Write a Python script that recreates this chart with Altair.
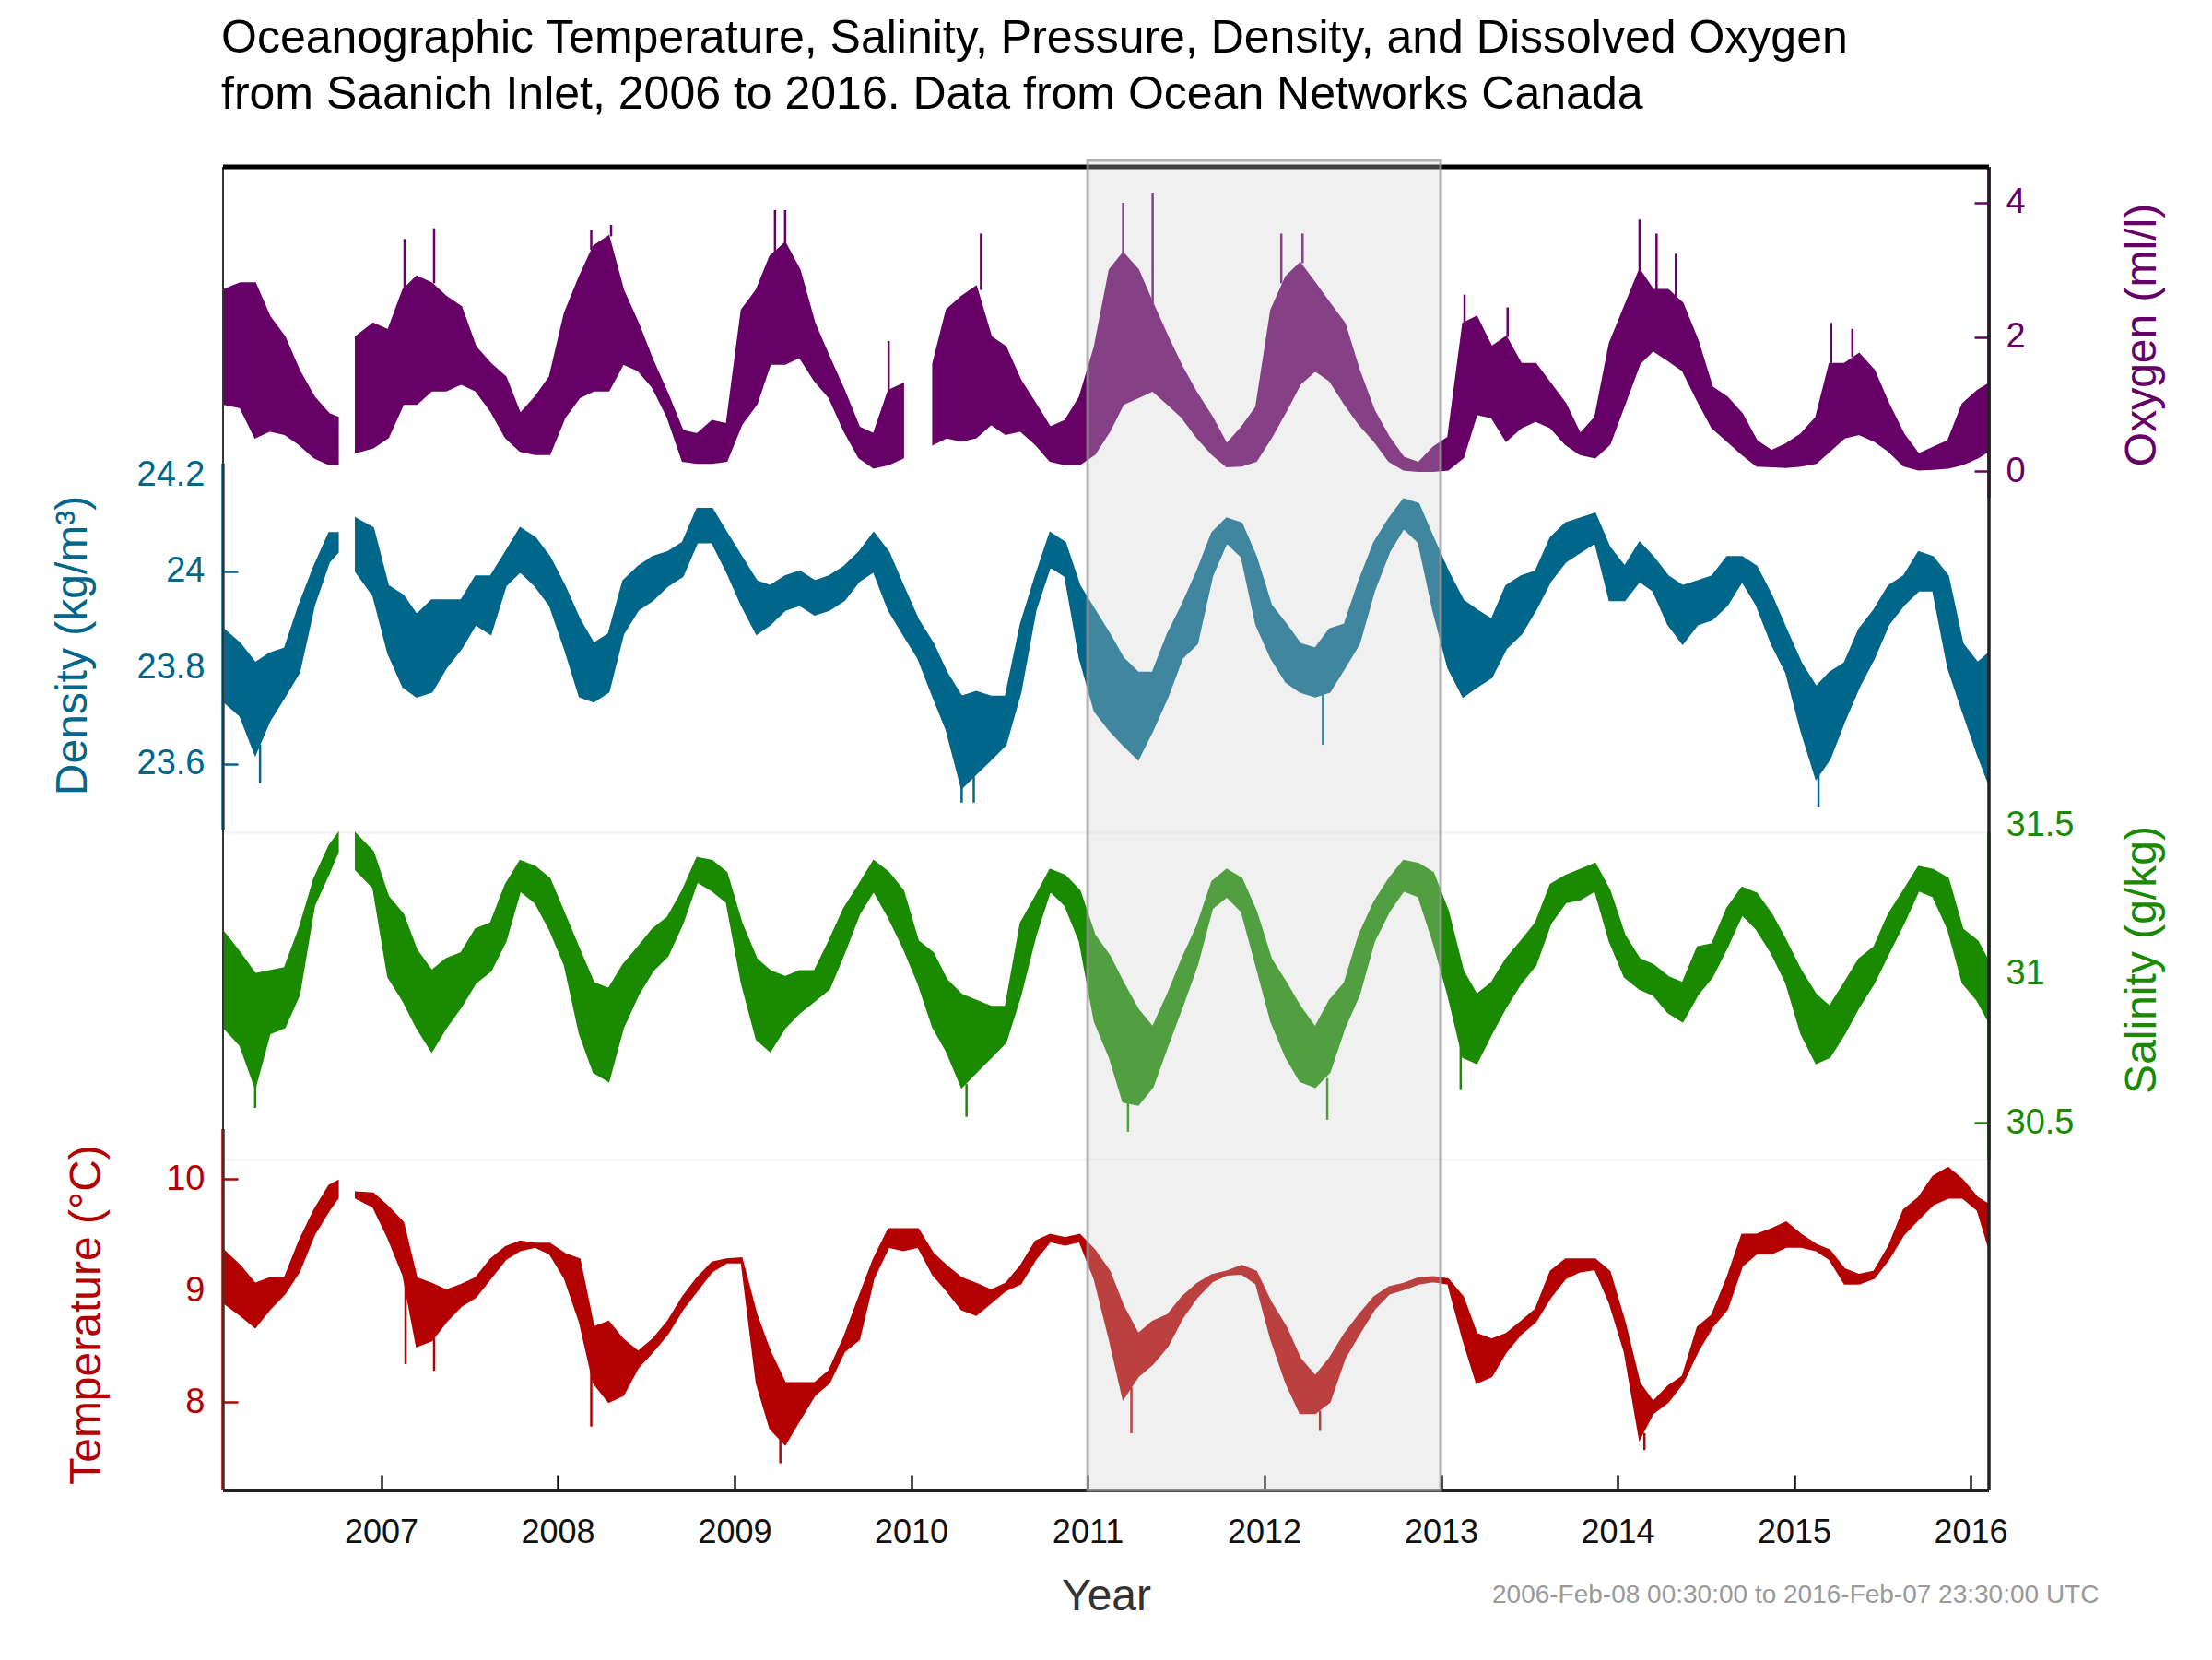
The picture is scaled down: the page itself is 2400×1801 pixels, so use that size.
import altair as alt
import pandas as pd

TITLE_LINES = [
    "Oceanographic Temperature, Salinity, Pressure, Density, and Dissolved Oxygen",
    "from Saanich Inlet, 2006 to 2016. Data from Ocean Networks Canada",
]
FOOTNOTE = "2006-Feb-08 00:30:00 to 2016-Feb-07 23:30:00 UTC"
X_LABEL = "Year"

# sample times (monthly); the 2006-10-20 entry marks the data gap
DATES = (["2006-02-09", "2006-03-15", "2006-04-15", "2006-05-15", "2006-06-15",
          "2006-07-15", "2006-08-15", "2006-09-15", "2006-10-03", "2006-10-20",
          "2006-11-09", "2006-12-15"]
         + [f"{y}-{m:02d}-15" for y in range(2007, 2016) for m in range(1, 13)]
         + ["2016-01-15", "2016-02-07"])

OXY_LO = [1.0, 0.95, 0.5, 0.6, 0.55, 0.4, 0.2, 0.1, 0.1, None, 0.28, 0.35,
          0.5, 1.0, 1.0, 1.2, 1.2, 1.3, 1.2, 0.9, 0.5, 0.3, 0.25, 0.25,
          0.8, 1.1, 1.2, 1.2, 1.6, 1.5, 1.25, 0.8, 0.15, 0.12, 0.12, 0.15,
          0.7, 1.0, 1.6, 1.6, 1.7, 1.35, 1.1, 0.6, 0.2, 0.05, 0.1, 0.2,
          None, 0.4, 0.5, 0.45, 0.5, 0.7, 0.55, 0.6, 0.4, 0.15, 0.1, 0.1,
          0.25, 0.6, 1.0, 1.1, 1.2, 1.0, 0.8, 0.5, 0.25, 0.07, 0.08, 0.15,
          0.5, 0.9, 1.3, 1.5, 1.35, 1.0, 0.7, 0.45, 0.15, 0.02, 0.0, 0.0,
          0.02, 0.2, 0.85, 0.8, 0.45, 0.65, 0.75, 0.65, 0.4, 0.25, 0.2, 0.4,
          1.0, 1.6, 1.8, 1.65, 1.5, 1.05, 0.65, 0.45, 0.25, 0.08, 0.07, 0.06,
          0.08, 0.12, 0.3, 0.5, 0.55, 0.45, 0.3, 0.08, 0.02, 0.03, 0.05, 0.1,
          0.2, 0.3]
OXY_HI = [2.7, 2.8, 2.8, 2.3, 2.0, 1.5, 1.1, 0.85, 0.8, None, 2.0, 2.2,
          2.1, 2.7, 2.9, 2.8, 2.6, 2.45, 1.85, 1.6, 1.4, 0.85, 1.1, 1.4,
          2.35, 2.9, 3.35, 3.5, 2.7, 2.2, 1.65, 1.15, 0.6, 0.55, 0.75, 0.7,
          2.4, 2.7, 3.2, 3.4, 3.0, 2.2, 1.7, 1.2, 0.65, 0.55, 1.2, 1.3,
          None, 1.6, 2.4, 2.6, 2.75, 2.0, 1.85, 1.35, 1.0, 0.65, 0.75, 1.1,
          1.85, 3.0, 3.25, 3.0, 2.5, 2.0, 1.55, 1.15, 0.8, 0.4, 0.65, 0.95,
          2.4, 2.9, 3.1, 2.8, 2.5, 2.2, 1.5, 0.9, 0.5, 0.2, 0.12, 0.35,
          0.5, 2.2, 2.3, 1.85, 2.0, 1.6, 1.6, 1.3, 1.0, 0.55, 0.8, 1.9,
          2.45, 3.0, 2.7, 2.7, 2.5, 1.95, 1.25, 1.1, 0.85, 0.45, 0.3, 0.4,
          0.55, 0.8, 1.6, 1.6, 1.75, 1.5, 1.0, 0.55, 0.25, 0.35, 0.45, 1.0,
          1.2, 1.3]

DEN_LO = [23.73, 23.70, 23.62, 23.69, 23.74, 23.79, 23.93, 24.02, 24.04, None, 24.00, 23.95,
          23.83, 23.76, 23.74, 23.75, 23.80, 23.84, 23.89, 23.87, 23.97, 24.00, 23.97, 23.93,
          23.84, 23.74, 23.73, 23.75, 23.87, 23.92, 23.94, 23.97, 23.99, 24.06, 24.06, 24.00,
          23.93, 23.87, 23.89, 23.92, 23.93, 23.91, 23.92, 23.94, 23.98, 24.00, 23.92, 23.87,
          23.82, 23.74, 23.67, 23.55, 23.58, 23.61, 23.64, 23.75, 23.92, 24.01, 23.99, 23.82,
          23.71, 23.67, 23.64, 23.61, 23.67, 23.74, 23.82, 23.85, 23.99, 24.06, 24.03, 23.89,
          23.82, 23.77, 23.75, 23.74, 23.75, 23.80, 23.85, 23.96, 24.04, 24.09, 24.06, 23.92,
          23.80, 23.74, 23.76, 23.78, 23.84, 23.87, 23.92, 23.98, 24.02, 24.04, 24.06, 23.94,
          23.94, 23.98, 23.96, 23.89, 23.85, 23.89, 23.90, 23.93, 23.98, 23.93, 23.85, 23.79,
          23.67, 23.57, 23.61, 23.69, 23.76, 23.82, 23.89, 23.93, 23.96, 23.96, 23.80, 23.71,
          23.62, 23.56]
DEN_HI = [23.88, 23.85, 23.81, 23.83, 23.84, 23.93, 24.01, 24.08, 24.08, None, 24.11, 24.09,
          23.97, 23.95, 23.91, 23.94, 23.94, 23.94, 23.99, 23.99, 24.04, 24.09, 24.07, 24.03,
          23.97, 23.90, 23.85, 23.87, 23.98, 24.01, 24.03, 24.04, 24.06, 24.13, 24.13, 24.08,
          24.03, 23.98, 23.97, 23.99, 24.00, 23.98, 23.99, 24.01, 24.04, 24.08, 24.04, 23.97,
          23.90, 23.85, 23.79, 23.74, 23.75, 23.74, 23.74, 23.89, 23.99, 24.08, 24.06, 23.97,
          23.92, 23.87, 23.82, 23.79, 23.79, 23.87, 23.93, 24.00, 24.08, 24.11, 24.10, 24.03,
          23.93, 23.89, 23.85, 23.84, 23.88, 23.89, 23.98, 24.06, 24.11, 24.15, 24.14, 24.07,
          24.00, 23.94, 23.92, 23.90, 23.97, 23.99, 24.00, 24.07, 24.10, 24.11, 24.12, 24.05,
          24.01, 24.06, 24.03, 23.99, 23.97, 23.98, 23.99, 24.03, 24.03, 24.01, 23.95, 23.88,
          23.81, 23.76, 23.79, 23.81, 23.88, 23.92, 23.97, 23.99, 24.04, 24.03, 23.99, 23.85,
          23.81, 23.83]

SAL_LO = [30.82, 30.76, 30.62, 30.80, 30.82, 30.93, 31.23, 31.34, 31.41, None, 31.35, 31.29,
          30.99, 30.91, 30.82, 30.74, 30.82, 30.89, 30.97, 31.01, 31.11, 31.28, 31.24, 31.15,
          31.03, 30.80, 30.67, 30.64, 30.82, 30.93, 31.01, 31.06, 31.17, 31.31, 31.28, 31.24,
          30.97, 30.78, 30.74, 30.82, 30.87, 30.91, 30.95, 31.07, 31.20, 31.28, 31.19, 31.09,
          30.97, 30.82, 30.74, 30.62, 30.67, 30.72, 30.77, 30.93, 31.13, 31.28, 31.23, 31.11,
          30.84, 30.72, 30.57, 30.56, 30.62, 30.76, 30.89, 31.03, 31.22, 31.26, 31.21, 31.03,
          30.84, 30.72, 30.64, 30.62, 30.67, 30.82, 30.93, 31.11, 31.21, 31.28, 31.26, 31.11,
          30.93, 30.72, 30.70, 30.80, 30.89, 30.97, 31.03, 31.17, 31.24, 31.25, 31.28, 31.11,
          30.99, 30.95, 30.93, 30.87, 30.84, 30.93, 30.99, 31.09, 31.20, 31.15, 31.07, 30.97,
          30.80, 30.70, 30.72, 30.80, 30.89, 30.97, 31.07, 31.17, 31.28, 31.26, 31.15, 30.97,
          30.91, 30.84]
SAL_HI = [31.14, 31.07, 31.00, 31.01, 31.02, 31.15, 31.32, 31.43, 31.47, None, 31.47, 31.41,
          31.26, 31.20, 31.08, 31.01, 31.05, 31.07, 31.15, 31.17, 31.30, 31.38, 31.36, 31.32,
          31.20, 31.08, 30.97, 30.95, 31.03, 31.09, 31.15, 31.19, 31.28, 31.39, 31.38, 31.34,
          31.17, 31.05, 31.01, 30.99, 31.01, 31.01, 31.11, 31.22, 31.30, 31.38, 31.34, 31.28,
          31.11, 31.07, 30.98, 30.93, 30.91, 30.89, 30.89, 31.17, 31.26, 31.35, 31.33, 31.28,
          31.13, 31.06, 30.97, 30.88, 30.82, 30.93, 31.05, 31.16, 31.31, 31.35, 31.32, 31.21,
          31.05, 30.97, 30.89, 30.82, 30.91, 30.97, 31.13, 31.24, 31.32, 31.38, 31.37, 31.34,
          31.21, 31.01, 30.93, 30.97, 31.05, 31.11, 31.17, 31.30, 31.33, 31.35, 31.37, 31.28,
          31.13, 31.05, 31.03, 30.99, 30.97, 31.09, 31.10, 31.22, 31.29, 31.27, 31.20, 31.11,
          31.01, 30.93, 30.89, 30.97, 31.05, 31.09, 31.20, 31.28, 31.36, 31.35, 31.32, 31.15,
          31.11, 31.04]

TMP_LO = [8.89, 8.78, 8.67, 8.83, 8.97, 9.17, 9.50, 9.72, 9.83, None, 9.83, 9.75,
          9.47, 9.14, 8.50, 8.55, 8.72, 8.86, 8.94, 9.11, 9.28, 9.36, 9.39, 9.33,
          9.11, 8.72, 8.17, 8.00, 8.06, 8.31, 8.45, 8.61, 8.83, 9.00, 9.17, 9.25,
          9.25, 8.17, 7.76, 7.62, 7.84, 8.06, 8.17, 8.45, 8.56, 9.11, 9.39, 9.36,
          9.39, 9.14, 9.00, 8.83, 8.78, 8.89, 9.00, 9.06, 9.28, 9.44, 9.41, 9.44,
          9.10, 8.56, 8.03, 8.23, 8.34, 8.50, 8.75, 8.94, 9.08, 9.14, 9.15, 9.06,
          8.56, 8.17, 7.90, 7.90, 8.00, 8.39, 8.61, 8.83, 8.97, 9.01, 9.06, 9.08,
          9.06, 8.56, 8.17, 8.23, 8.45, 8.61, 8.72, 8.94, 9.11, 9.17, 9.19, 8.89,
          8.45, 7.67, 7.90, 8.00, 8.17, 8.45, 8.67, 8.83, 9.22, 9.33, 9.33, 9.39,
          9.39, 9.36, 9.28, 9.06, 9.06, 9.11, 9.28, 9.50, 9.64, 9.77, 9.83, 9.83,
          9.72, 9.39]
TMP_HI = [9.36, 9.22, 9.06, 9.11, 9.11, 9.44, 9.72, 9.94, 9.98, None, 9.88, 9.87,
          9.75, 9.61, 9.11, 9.06, 9.00, 9.05, 9.11, 9.28, 9.39, 9.44, 9.42, 9.42,
          9.33, 9.28, 8.67, 8.72, 8.56, 8.45, 8.56, 8.72, 8.94, 9.11, 9.25, 9.28,
          9.29, 8.78, 8.45, 8.17, 8.17, 8.17, 8.28, 8.58, 8.94, 9.28, 9.55, 9.55,
          9.55, 9.33, 9.22, 9.11, 9.06, 9.00, 9.06, 9.22, 9.44, 9.50, 9.47, 9.50,
          9.36, 9.17, 8.86, 8.61, 8.72, 8.78, 8.94, 9.06, 9.14, 9.17, 9.22, 9.17,
          8.89, 8.67, 8.39, 8.23, 8.39, 8.61, 8.78, 8.94, 9.03, 9.06, 9.11, 9.12,
          9.10, 8.94, 8.61, 8.56, 8.61, 8.72, 8.83, 9.17, 9.28, 9.28, 9.28, 9.17,
          8.72, 8.17, 8.00, 8.14, 8.23, 8.67, 8.78, 9.11, 9.50, 9.50, 9.55, 9.61,
          9.50, 9.41, 9.36, 9.19, 9.14, 9.17, 9.39, 9.72, 9.83, 10.02, 10.10, 9.99,
          9.83, 9.77]

# isolated spikes that stick out of the bands
OXY_SPIKE_DATES = ["2007-02-18", "2007-04-20", "2008-03-10", "2008-04-20", "2009-03-25",
                   "2009-04-15", "2009-11-15", "2010-05-25", "2011-03-15", "2011-05-15",
                   "2012-02-05", "2012-03-20", "2013-02-18", "2013-05-18", "2014-02-15",
                   "2014-03-22", "2014-05-01", "2015-03-18", "2015-05-01"]
OXY_SPIKE_BASE = [2.7, 2.8, 3.3, 3.5, 3.2, 3.4, 1.2, 2.7, 3.2, 2.5,
                  2.8, 3.1, 2.2, 2.0, 3.0, 2.7, 2.6, 1.6, 1.7]
OXY_SPIKE_TIP = [3.46, 3.62, 3.59, 3.67, 3.89, 3.89, 1.94, 3.54, 4.0, 4.15,
                 3.54, 3.54, 2.63, 2.44, 3.75, 3.54, 3.24, 2.21, 2.12]

DEN_SPIKE_DATES = ["2006-04-25", "2010-04-15", "2010-05-10", "2012-05-01", "2015-02-20"]
DEN_SPIKE_BASE = [23.64, 23.56, 23.58, 23.75, 23.58]
DEN_SPIKE_TIP = [23.56, 23.52, 23.52, 23.64, 23.51]

SAL_SPIKE_DATES = ["2006-04-15", "2010-04-25", "2011-03-25", "2012-05-10", "2013-02-10"]
SAL_SPIKE_BASE = [30.63, 30.63, 30.58, 30.65, 30.77]
SAL_SPIKE_TIP = [30.55, 30.52, 30.47, 30.51, 30.61]

TMP_SPIKE_DATES = ["2007-02-20", "2007-04-20", "2008-03-10", "2009-04-05", "2011-04-01",
                   "2012-04-25", "2014-02-25"]
TMP_SPIKE_BASE = [9.05, 8.57, 8.3, 7.68, 8.13, 7.92, 7.72]
TMP_SPIKE_TIP = [8.34, 8.28, 7.78, 7.45, 7.72, 7.74, 7.57]

YEAR_TICKS = list(range(2007, 2017))
HIGHLIGHT = ["2011-01-01T00:00:00", "2012-12-31T00:00:00"]

W, H = 1916, 1436
FONT = "Liberation Sans"

SERIES = [
    dict(lo=OXY_LO, hi=OXY_HI, sd=OXY_SPIKE_DATES, sb=OXY_SPIKE_BASE, st=OXY_SPIKE_TIP,
         color="#660066", orient="right", domain=[-15.2, 4.536],
         ticks=[0, 2, 4], shown=[0, 2, 4], line=[4.536, -0.4], title="Oxygen (ml/l)",
         tx=196, ty=182, pad=18),
    dict(lo=DEN_LO, hi=DEN_HI, sd=DEN_SPIKE_DATES, sb=DEN_SPIKE_BASE, st=DEN_SPIKE_TIP,
         color="#00668a", orient="left", domain=[22.092, 24.840],
         ticks=[23.6, 23.8, 24, 24.2], shown=[23.6, 23.8, 24], line=[24.224, 23.464],
         title="Density (kg/m³)", tx=-165, ty=519, pad=20),
    dict(lo=SAL_LO, hi=SAL_HI, sd=SAL_SPIKE_DATES, sb=SAL_SPIKE_BASE, st=SAL_SPIKE_TIP,
         color="#1a8a00", orient="right", domain=[29.265, 33.711],
         ticks=[30.5, 31, 31.5], shown=[30.5], line=[31.475, 30.376],
         title="Salinity (g/kg)", tx=196, ty=860, pad=18),
    dict(lo=TMP_LO, hi=TMP_HI, sd=TMP_SPIKE_DATES, sb=TMP_SPIKE_BASE, st=TMP_SPIKE_TIP,
         color="#b30000", orient="left", domain=[7.207, 19.074],
         ticks=[8, 9, 10], shown=[8, 9, 10], line=[10.446, 7.207],
         title="Temperature (°C)", tx=-150, ty=1245, pad=20),
]

X_SCALE = alt.Scale(domain=[alt.DateTime(year=2006, month=2, date=8, hours=0, minutes=30),
                            alt.DateTime(year=2016, month=2, date=7, hours=23, minutes=30)])
X_AXIS = alt.Axis(orient="bottom", values=[alt.DateTime(year=y, month=1, date=1) for y in YEAR_TICKS],
                  format="%Y", offset=-17, tickSize=17, tickWidth=2.5, tickColor="#111111",
                  domain=False, grid=False, labelPadding=28, labelFontSize=36, labelColor="#111111",
                  labelFlush=False, labelOverlap=False, title=X_LABEL, titleFontSize=48,
                  titleFontWeight="normal", titleColor="#333333", titlePadding=28)


def xenc(field):
    return alt.X(f"{field}:T", scale=X_SCALE, axis=X_AXIS)


def yscale(cfg):
    return alt.Scale(domain=cfg["domain"], nice=False, zero=False)


one = pd.DataFrame({"k": [0]})
layers = []

# faint boundary lines of the salinity band
layers.append(alt.Chart(pd.DataFrame({"v": [SERIES[2]["line"][0], SERIES[2]["line"][1]]}))
              .mark_rule(color="#f4f4f4", strokeWidth=3)
              .encode(x=alt.value(0), x2=alt.value("width"),
                      y=alt.Y("v:Q", scale=yscale(SERIES[2]), axis=None)))

for cfg in SERIES:
    rows, seg = [], 0
    for d, a, b in zip(DATES, cfg["lo"], cfg["hi"]):
        if a is None or b is None:
            seg += 1
            continue
        rows.append({"date": d + "T12:00:00", "lo": a, "hi": b, "seg": seg})
    df = pd.DataFrame(rows)
    c = cfg["color"]
    ax = alt.Axis(orient=cfg["orient"], values=cfg["ticks"], format=".4~g", offset=-16,
                  tickSize=16, tickWidth=2.5, tickColor="transparent", domain=False, grid=False,
                  labelPadding=cfg["pad"], labelFontSize=38, labelColor=c, labelFlush=False,
                  labelOverlap=False, title=cfg["title"], titleFontSize=48,
                  titleFontWeight="normal", titleColor=c, titleAngle=270, titleAlign="center",
                  titleBaseline="alphabetic", titleX=cfg["tx"], titleY=cfg["ty"])
    layers.append(alt.Chart(df).mark_area(fill=c, stroke=c, strokeWidth=2, interpolate="linear")
                  .encode(x=xenc("date"),
                          y=alt.Y("lo:Q", scale=yscale(cfg), axis=ax),
                          y2="hi:Q", detail="seg:N"))
    sdf = pd.DataFrame({"date": [d + "T12:00:00" for d in cfg["sd"]],
                        "base": cfg["sb"], "tip": cfg["st"]})
    layers.append(alt.Chart(sdf).mark_rule(color=c, strokeWidth=2.5)
                  .encode(x=xenc("date"), y=alt.Y("base:Q", scale=yscale(cfg), axis=None),
                          y2="tip:Q"))

# coloured axis lines, carrying the visible inward ticks
for cfg in SERIES:
    xv = 0 if cfg["orient"] == "left" else "width"
    tick_axis = alt.Axis(orient=cfg["orient"], values=cfg["shown"], offset=-16, tickSize=16,
                         tickWidth=2.5, tickColor=cfg["color"], labels=False, domain=False,
                         grid=False, title="")
    layers.append(alt.Chart(pd.DataFrame({"a": [cfg["line"][0]], "b": [cfg["line"][1]]}))
                  .mark_rule(color=cfg["color"], strokeWidth=3.5)
                  .encode(x=alt.value(xv), y=alt.Y("a:Q", scale=yscale(cfg), axis=tick_axis),
                          y2="b:Q"))

# frame
layers.append(alt.Chart(one).mark_rule(color="#333333", strokeWidth=2)
              .encode(x=alt.value(0), y=alt.value(0), y2=alt.value("height")))
layers.append(alt.Chart(one).mark_rule(color="#222222", strokeWidth=3.5)
              .encode(x=alt.value("width"), y=alt.value(0), y2=alt.value("height")))
layers.append(alt.Chart(one).mark_rule(color="#000000", strokeWidth=5)
              .encode(x=alt.value(0), x2=alt.value("width"), y=alt.value(0)))
layers.append(alt.Chart(one).mark_rule(color="#222222", strokeWidth=4)
              .encode(x=alt.value(0), x2=alt.value("width"), y=alt.value("height")))

# highlighted period
layers.append(alt.Chart(pd.DataFrame({"start": [HIGHLIGHT[0]], "end": [HIGHLIGHT[1]]}))
              .mark_rect(fill="#cfcfcf", fillOpacity=0.31, stroke="#9a9a9a",
                         strokeOpacity=0.75, strokeWidth=3)
              .encode(x=xenc("start"), x2="end:T", y=alt.value(-7), y2=alt.value("height")))

# footnote
layers.append(alt.Chart(pd.DataFrame({"t": [FOOTNOTE]}))
              .mark_text(align="left", baseline="middle", fontSize=28, color="#9a9a9a")
              .encode(x=alt.value(1377), y=alt.value(1550), text="t:N"))

chart = (alt.layer(*layers)
         .resolve_scale(y="independent")
         .properties(width=W, height=H,
                     autosize=alt.AutoSizeParams(type="none"),
                     padding={"left": 234, "top": 173, "right": 222, "bottom": 176},
                     title=alt.TitleParams(text=TITLE_LINES, anchor="start", frame="group",
                                           fontSize=50, fontWeight="normal", color="#000000",
                                           lineHeight=61, offset=45, dx=-2))
         .configure(font=FONT)
         .configure_view(stroke=None))

chart.save("out.html", embed_options={"renderer": "svg", "actions": False})
